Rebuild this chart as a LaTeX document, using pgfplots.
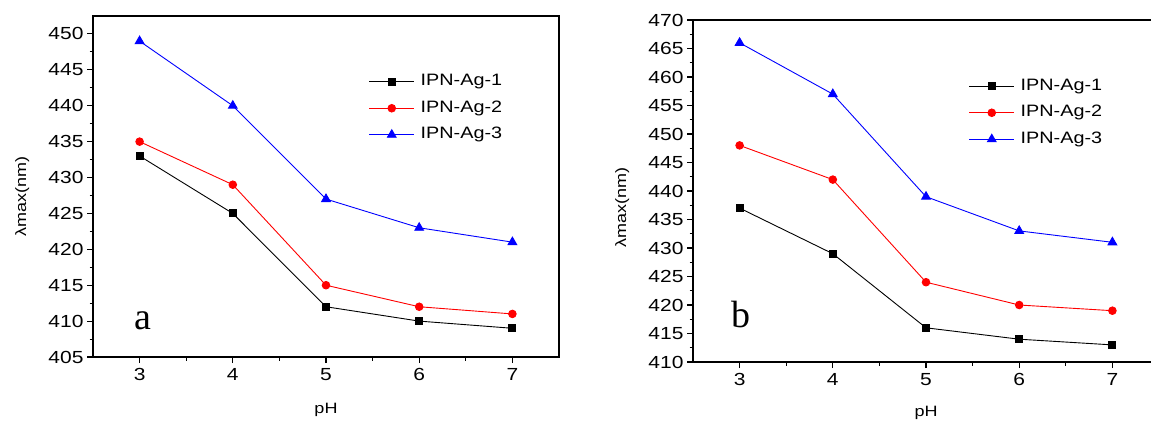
\documentclass[border=0pt]{standalone}
\usepackage{fontspec}
\setmainfont{Liberation Sans}[FakeStretch=1.2]
\newfontfamily\seriffont{Liberation Serif}
\usepackage{pgfplots}
\pgfplotsset{compat=1.18}
\pgfplotsset{
  panel/.style={
    scale only axis,
    width=466pt,
    xmin=2.5, xmax=7.5,
    xtick={3,4,5,6,7},
    minor x tick num=1,
    minor y tick num=1,
    tick align=outside,
    tick pos=left,
    major tick length=6pt,
    minor tick length=3.5pt,
    axis line style={line width=1.1pt},
    every tick/.style={line width=1.1pt, black},
    /pgf/number format/assume math mode=true,
    yticklabel style={font=\fontsize{17.5}{20}\selectfont},
    xticklabel style={font=\fontsize{17.5}{20}\selectfont, yshift=-2pt},
    legend style={draw=none, fill=none, anchor=north west,
      font=\fontsize{16.5}{20}\selectfont, row sep=8.5pt,
      nodes={inner sep=1pt, text height=12pt, text depth=4pt},
      /tikz/every odd column/.append style={column sep=5pt}},
    legend cell align=left,
    legend image code/.code={
      \draw[mark repeat=2,mark phase=2] plot coordinates {(0pt,0pt) (22.5pt,0pt) (45pt,0pt)};
    },
    s1/.style={black, line width=0.9pt, mark=square*, mark size=3.5pt, mark options={solid}},
    s2/.style={red, line width=0.9pt, mark=*, mark size=3.8pt, mark options={solid}},
    s3/.style={blue, line width=0.9pt, mark=triangle*, mark size=5pt, mark options={solid}},
  }
}
\begin{document}
\begin{tikzpicture}
\useasboundingbox (0,0) rectangle (1151pt,421pt);
% Panel a
\begin{axis}[panel,
  at={(93pt,64pt)}, anchor=south west,
  height=341pt,
  ymin=405, ymax=452.5,
  ytick={405,410,...,450},
  xlabel={pH}, ylabel={λmax(nm)},
  every axis x label/.style={at={(axis description cs:0.5,-0.155)}, anchor=center, font=\fontsize{15}{18}\selectfont},
  every axis y label/.style={at={(axis description cs:-0.152,0.472)}, rotate=90, anchor=center, font=\fontsize{15}{18}\selectfont},
  legend style={at={(axis description cs:0.585,0.84)}},
]
\addplot[s1] coordinates {(3,433) (4,425) (5,412) (6,410) (7,409)};
\addplot[s2] coordinates {(3,435) (4,429) (5,415) (6,412) (7,411)};
\addplot[s3] coordinates {(3,449) (4,440) (5,427) (6,423) (7,421)};
\legend{IPN-Ag-1, IPN-Ag-2, IPN-Ag-3}
\node[font=\seriffont\fontsize{38}{40}\selectfont, anchor=base] at (axis cs:3.04,408.8) {a};
\end{axis}
% Panel b
\begin{axis}[panel,
  at={(693pt,59pt)}, anchor=south west,
  height=342pt,
  ymin=410, ymax=470,
  ytick={410,415,...,470},
  xlabel={pH}, ylabel={λmax(nm)},
  every axis x label/.style={at={(axis description cs:0.5,-0.149)}, anchor=center, font=\fontsize{15}{18}\selectfont},
  every axis y label/.style={at={(axis description cs:-0.152,0.453)}, rotate=90, anchor=center, font=\fontsize{15}{18}\selectfont},
  legend style={at={(axis description cs:0.585,0.839)}},
]
\addplot[s1] coordinates {(3,437) (4,429) (5,416) (6,414) (7,413)};
\addplot[s2] coordinates {(3,448) (4,442) (5,424) (6,420) (7,419)};
\addplot[s3] coordinates {(3,466) (4,457) (5,439) (6,433) (7,431)};
\legend{IPN-Ag-1, IPN-Ag-2, IPN-Ag-3}
\node[font=\seriffont\fontsize{38}{40}\selectfont, anchor=base] at (axis cs:3.01,416) {b};
\end{axis}
\end{tikzpicture}
\end{document}
